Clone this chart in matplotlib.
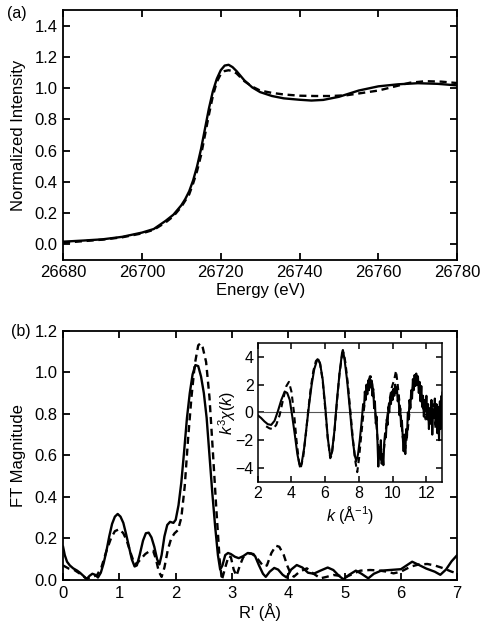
"""
XANES (a) and Fourier transformed EXAFS (b) with k^3 chi(k) inset
"""
import matplotlib
matplotlib.use('Agg')
import matplotlib.pyplot as plt

plt.rcParams['font.family'] = ['Liberation Sans', 'DejaVu Sans']
plt.rcParams['mathtext.fontset'] = 'custom'
plt.rcParams['mathtext.rm'] = 'Liberation Sans'
plt.rcParams['mathtext.it'] = 'Liberation Sans:italic'

# ---- panel (a): XANES ----
energy_exp = [26680, 26685, 26690, 26695, 26700, 26703, 26706, 26708, 26710, 26711,
              26712, 26713, 26714, 26715, 26716, 26717, 26718, 26719, 26720, 26721,
              26722, 26723, 26724, 26725, 26726, 26728, 26730, 26733, 26736, 26740,
              26743, 26746, 26750, 26755, 26760, 26765, 26770, 26775, 26780]
mu_exp = [0.017, 0.024, 0.032, 0.048, 0.075, 0.098, 0.15, 0.19, 0.25, 0.29,
          0.34, 0.41, 0.50, 0.61, 0.74, 0.87, 0.98, 1.06, 1.115, 1.145,
          1.15, 1.135, 1.11, 1.08, 1.05, 1.005, 0.975, 0.95, 0.935, 0.926,
          0.921, 0.925, 0.945, 0.985, 1.012, 1.025, 1.032, 1.028, 1.018]

energy_fit = [26680, 26685, 26690, 26695, 26700, 26703, 26706, 26708, 26710, 26712,
              26713, 26714, 26715, 26716, 26717, 26718, 26719, 26720, 26721, 26722,
              26723, 26724, 26725, 26726, 26728, 26730, 26733, 26736, 26740, 26744,
              26748, 26752, 26756, 26760, 26764, 26768, 26772, 26776, 26780]
mu_fit = [0.01, 0.02, 0.03, 0.045, 0.07, 0.093, 0.14, 0.18, 0.24, 0.32,
          0.39, 0.47, 0.57, 0.70, 0.83, 0.95, 1.04, 1.09, 1.11, 1.115,
          1.11, 1.095, 1.07, 1.045, 1.01, 0.985, 0.97, 0.96, 0.952, 0.95,
          0.95, 0.955, 0.97, 0.985, 1.01, 1.035, 1.045, 1.042, 1.033]

# ---- panel (b): FT magnitude ----
r_exp = [0.0, 0.03, 0.07, 0.12, 0.18, 0.25, 0.3, 0.36, 0.42, 0.47, 0.52, 0.57, 0.62,
         0.67, 0.72, 0.77, 0.82, 0.87, 0.92, 0.97, 1.02, 1.07, 1.12, 1.17, 1.22,
         1.27, 1.31, 1.36, 1.42, 1.47, 1.52, 1.57, 1.62, 1.67, 1.71, 1.75, 1.8,
         1.85, 1.9, 1.96, 2.0, 2.05, 2.1, 2.15, 2.2, 2.25, 2.3, 2.35, 2.4, 2.45,
         2.5, 2.55, 2.6, 2.65, 2.7, 2.75, 2.79, 2.83, 2.88, 2.93, 2.98, 3.05,
         3.12, 3.2, 3.28, 3.34, 3.41, 3.48, 3.55, 3.6, 3.67, 3.75, 3.82, 3.9,
         3.97, 4.05, 4.15, 4.25, 4.35, 4.45, 4.57, 4.7, 4.8, 4.9, 4.98, 5.08,
         5.2, 5.3, 5.42, 5.52, 5.65, 5.8, 6.0, 6.1, 6.2, 6.3, 6.45, 6.6, 6.7,
         6.8, 6.9, 7.0]
ft_exp = [0.16, 0.12, 0.088, 0.07, 0.056, 0.045, 0.035, 0.02, 0.005, 0.02, 0.03,
          0.025, 0.012, 0.035, 0.08, 0.14, 0.21, 0.27, 0.305, 0.318, 0.305,
          0.275, 0.22, 0.16, 0.1, 0.065, 0.07, 0.12, 0.19, 0.225, 0.228, 0.205,
          0.16, 0.1, 0.075, 0.12, 0.21, 0.265, 0.28, 0.275, 0.29, 0.36, 0.47,
          0.62, 0.78, 0.9, 0.99, 1.035, 1.03, 0.98, 0.9, 0.78, 0.6, 0.42, 0.26,
          0.12, 0.05, 0.07, 0.12, 0.13, 0.125, 0.112, 0.105, 0.115, 0.13, 0.128,
          0.115, 0.07, 0.03, 0.015, 0.04, 0.058, 0.05, 0.025, 0.012, 0.05, 0.072,
          0.06, 0.035, 0.03, 0.045, 0.06, 0.048, 0.02, 0.003, 0.025, 0.045, 0.03,
          0.008, 0.03, 0.045, 0.048, 0.052, 0.07, 0.088, 0.075, 0.055, 0.04,
          0.025, 0.05, 0.09, 0.12]

r_fit = [0.0, 0.1, 0.2, 0.3, 0.42, 0.5, 0.6, 0.68, 0.77, 0.85, 0.92, 1.0, 1.07,
         1.13, 1.2, 1.27, 1.33, 1.39, 1.46, 1.53, 1.6, 1.65, 1.7, 1.75, 1.8, 1.86,
         1.92, 1.98, 2.04, 2.1, 2.16, 2.22, 2.28, 2.34, 2.4, 2.44, 2.48, 2.54,
         2.6, 2.66, 2.72, 2.78, 2.82, 2.88, 2.94, 2.98, 3.03, 3.08, 3.14, 3.2,
         3.3, 3.38, 3.46, 3.56, 3.62, 3.7, 3.78, 3.84, 3.92, 3.98, 4.05, 4.1,
         4.2, 4.33, 4.45, 4.57, 4.68, 4.8, 4.92, 5.04, 5.15, 5.28, 5.45, 5.6,
         5.75, 5.87, 6.0, 6.17, 6.32, 6.47, 6.6, 6.76, 6.9, 7.0]
ft_fit = [0.07, 0.055, 0.048, 0.03, 0.005, 0.015, 0.022, 0.06, 0.14, 0.2, 0.235,
          0.245, 0.225, 0.19, 0.13, 0.075, 0.085, 0.104, 0.125, 0.138, 0.14, 0.1,
          0.04, 0.015, 0.06, 0.145, 0.2, 0.225, 0.24, 0.3, 0.45, 0.68, 0.88, 1.04,
          1.13, 1.14, 1.12, 1.05, 0.88, 0.62, 0.35, 0.1, 0.0, 0.06, 0.115, 0.11,
          0.05, 0.02, 0.07, 0.11, 0.128, 0.125, 0.1, 0.065, 0.07, 0.13, 0.165,
          0.16, 0.12, 0.07, 0.025, 0.016, 0.04, 0.056, 0.03, 0.008, 0.015, 0.024,
          0.02, 0.016, 0.03, 0.045, 0.048, 0.046, 0.04, 0.032, 0.04, 0.064, 0.075,
          0.077, 0.07, 0.056, 0.04, 0.032]

# ---- inset: k^3 chi(k) ----
k_exp = [2.0, 2.2, 2.4, 2.6, 2.8, 3.0, 3.2, 3.4, 3.6, 3.75, 3.9, 4.05, 4.2, 4.35,
         4.5, 4.6, 4.75, 4.9, 5.05, 5.2, 5.35, 5.5, 5.6, 5.7, 5.85, 6.0, 6.15, 6.3,
         6.4, 6.55, 6.7, 6.85, 7.0, 7.05, 7.15, 7.3, 7.45, 7.6, 7.75, 7.85, 7.95,
         8.05, 8.15, 8.25, 8.3, 8.35, 8.4, 8.45, 8.5, 8.55, 8.6, 8.65, 8.7, 8.75,
         8.8, 8.85, 8.9, 8.95, 9.0, 9.05, 9.1, 9.15, 9.2, 9.25, 9.3, 9.35, 9.4,
         9.45, 9.5, 9.55, 9.6, 9.65, 9.7, 9.75, 9.8, 9.85, 9.9, 9.95, 10.0, 10.05,
         10.1, 10.15, 10.2, 10.25, 10.3, 10.35, 10.4, 10.45, 10.5, 10.55, 10.6,
         10.65, 10.7, 10.75, 10.8, 10.85, 10.9, 10.95, 11.0, 11.05, 11.1, 11.15,
         11.2, 11.25, 11.3, 11.35, 11.4, 11.45, 11.5, 11.55, 11.6, 11.65, 11.7,
         11.75, 11.8, 11.85, 11.9, 11.95, 12.0, 12.05, 12.1, 12.15, 12.2, 12.25,
         12.3, 12.35, 12.4, 12.45, 12.5, 12.55, 12.6, 12.65, 12.7, 12.75, 12.8,
         12.85, 12.9, 12.95]
chi_exp = [-0.2, -0.4, -0.65, -0.85, -0.9, -0.6, 0.1, 0.9, 1.5, 1.4, 0.9, -0.3,
           -1.6, -3.0, -3.9, -3.7, -2.6, -1.0, 0.6, 2.0, 3.1, 3.7, 3.8, 3.5, 2.4,
           0.5, -1.8, -3.2, -2.9, -1.3, 0.9, 2.8, 4.3, 4.5, 3.8, 2.3, 0.4, -1.6,
           -3.1, -3.5, -3.0,
           -2.0, -0.8, 0.6, 0.2, 1.5, 0.9, 2.0, 1.3, 2.3, 1.6, 2.6, 1.8, 2.3,
           1.2, 1.7, 0.3, 0.8, -0.8, -0.3, -2.0, -3.9, -2.5, -3.2, -2.0, -3.7,
           -3.0, -3.8, -2.2, -1.5, -1.8, -0.5, -0.9, 0.4, 0.0, 1.0, 0.6, 1.5, 0.9,
           1.7, 1.2, 2.0, 1.4, 1.8, 0.8, 1.2, -0.2, 0.3, -1.0, -0.6, -1.8, -2.8,
           -1.6, -3.0, -1.2, -1.8, 0.0, -0.5, 0.9, 0.3, 1.6, 1.0, 2.4, 1.6, 2.7,
           1.9, 2.8, 2.0, 2.6, 1.4, 2.2, 0.8, 1.9, 0.4, 1.2, -0.3, 0.9, 0.1, 1.2,
           -0.5, 0.6, -1.2, 0.3, -0.8, 0.9, -1.6, 0.2, -0.4, 1.0, -0.9, 0.6, -1.5,
           0.4, -2.0, 0.8, -1.2, 1.2, -1.0]

k_fit = [2.5, 2.7, 2.9, 3.1, 3.3, 3.5, 3.7, 3.85, 4.0, 4.15, 4.3, 4.45, 4.55, 4.7,
         4.85, 5.0, 5.15, 5.3, 5.45, 5.6, 5.7, 5.85, 6.0, 6.15, 6.3, 6.4, 6.55,
         6.7, 6.85, 7.0, 7.1, 7.2, 7.35, 7.5, 7.65, 7.8, 7.9, 8.0, 8.15, 8.3, 8.45,
         8.6, 8.7, 8.8, 8.95, 9.1, 9.25, 9.35, 9.5, 9.65, 9.8, 9.95, 10.1, 10.2,
         10.3, 10.45, 10.6, 10.75, 10.9, 11.05, 11.2, 11.35, 11.5, 11.65, 11.8,
         11.95, 12.1, 12.25, 12.4, 12.55, 12.7, 12.85, 12.95]
chi_fit = [-1.0, -1.15, -1.2, -0.9, -0.2, 0.9, 1.9, 2.2, 1.5, 0.0, -2.0, -3.6,
           -4.0, -3.2, -1.6, 0.2, 1.8, 3.0, 3.7, 3.9, 3.5, 2.3, 0.3, -1.8, -3.3,
           -3.0, -1.4, 0.8, 2.8, 4.1, 4.3, 3.6, 2.0, 0.0, -2.0, -3.6, -4.3, -3.4,
           -1.5, 0.3, 1.6, 2.4, 2.6, 2.0, 0.3, -1.8, -3.3, -3.6, -2.5, -0.6, 0.8,
           1.8, 2.4, 3.0, 2.0, 0.2, -1.8, -2.6, -1.2, 0.6, 1.8, 2.6, 2.5, 1.5, 0.3,
           -0.5, 0.4, -0.8, 0.6, -1.2, 0.2, -1.0, 1.5]

FS = 12
FS_IN = 11.5
dash = (0, (3, 2))

fig = plt.figure(figsize=(4.89, 6.34), dpi=100)


def style_axes(ax, fs, lw=1.3):
    for s in ax.spines.values():
        s.set_linewidth(lw)
    ax.tick_params(direction='in', length=5, width=lw, top=True, right=True,
                   labelsize=fs, pad=4)


# (a)
ax1 = fig.add_axes([0.129, 0.590, 0.806, 0.394])
ax1.plot(energy_exp, mu_exp, color='black', lw=1.7)
ax1.plot(energy_fit, mu_fit, color='black', lw=1.7, ls=dash)
ax1.set_xlim(26680, 26780)
ax1.set_ylim(-0.1, 1.5)
ax1.set_xticks([26680, 26700, 26720, 26740, 26760, 26780])
ax1.set_yticks([0.0, 0.2, 0.4, 0.6, 0.8, 1.0, 1.2, 1.4])
ax1.yaxis.set_major_formatter(plt.FormatStrFormatter('%.1f'))
style_axes(ax1, FS)
ax1.set_xlabel('Energy (eV)', fontsize=FS, labelpad=2)
ax1.set_ylabel('Normalized Intensity', fontsize=FS, labelpad=6)
fig.text(0.014, 0.978, '(a)', fontsize=11.5, va='center', ha='left')

# (b)
ax2 = fig.add_axes([0.129, 0.0852, 0.806, 0.393])
ax2.plot(r_exp, ft_exp, color='black', lw=1.7)
ax2.plot(r_fit, ft_fit, color='black', lw=1.7, ls=dash)
ax2.set_xlim(0, 7)
ax2.set_ylim(0, 1.2)
ax2.set_xticks(range(8))
ax2.set_yticks([0.0, 0.2, 0.4, 0.6, 0.8, 1.0, 1.2])
ax2.yaxis.set_major_formatter(plt.FormatStrFormatter('%.1f'))
style_axes(ax2, FS)
ax2.set_xlabel("R' (Å)", fontsize=FS, labelpad=2)
ax2.set_ylabel('FT Magnitude', fontsize=FS, labelpad=6)
fig.text(0.022, 0.477, '(b)', fontsize=11.5, va='center', ha='left')

# inset
ax3 = fig.add_axes([0.527, 0.240, 0.376, 0.219])
ax3.axhline(0, color='#555555', lw=0.8)
ax3.plot(k_exp, chi_exp, color='black', lw=1.5)
ax3.plot(k_fit, chi_fit, color='black', lw=1.5, ls=dash)
ax3.set_xlim(2, 12.9)
ax3.set_ylim(-5, 5)
ax3.set_xticks([2, 4, 6, 8, 10, 12])
ax3.set_yticks([-4, -2, 0, 2, 4])
style_axes(ax3, FS_IN, lw=1.1)
ax3.tick_params(length=4, pad=3)
ax3.set_xlabel(r'$k$ (Å$^{-1}$)', fontsize=FS_IN, labelpad=2)
ax3.set_ylabel(r'$k^3\chi(k)$', fontsize=FS_IN, labelpad=-2)

fig.savefig('out.png', dpi=100)
